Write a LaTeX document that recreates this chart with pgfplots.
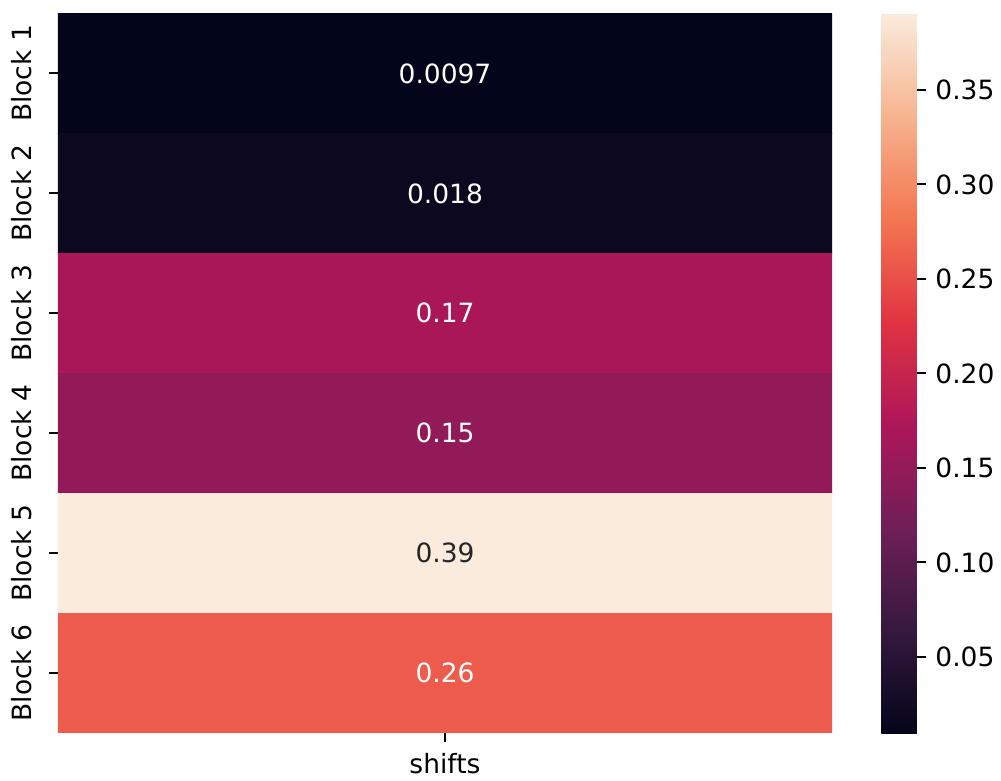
\documentclass[border=0pt]{standalone}
\usepackage{fontspec}
\setmainfont{DejaVu Sans}
\usepackage{pgfplots}
\pgfplotsset{compat=1.18}
\usepackage{pgfplotstable}

% seaborn "rocket" colour map, sampled at k/7
\pgfplotsset{
  colormap={rocket}{
    rgb255(0)=(3,5,26)
    rgb255(1)=(53,25,62)
    rgb255(2)=(112,31,87)
    rgb255(3)=(173,23,89)
    rgb255(4)=(225,51,66)
    rgb255(5)=(243,118,81)
    rgb255(6)=(246,180,143)
    rgb255(7)=(250,235,221)
  }
}
\definecolor{annodark}{HTML}{262626}

% one rectangle per block (four corners each), Block 1 on top
\pgfplotstableread{
x y c
0 5 0.0097
1 5 0.0097
1 6 0.0097
0 6 0.0097
0 4 0.018
1 4 0.018
1 5 0.018
0 5 0.018
0 3 0.17
1 3 0.17
1 4 0.17
0 4 0.17
0 2 0.15
1 2 0.15
1 3 0.15
0 3 0.15
0 1 0.39
1 1 0.39
1 2 0.39
0 2 0.39
0 0 0.26
1 0 0.26
1 1 0.26
0 1 0.26
}\cells

% annotations in the cell centres
\pgfplotstableread{
x y label
0.5 5.5 0.0097
0.5 4.5 0.018
0.5 3.5 0.17
0.5 2.5 0.15
0.5 0.5 0.26
}\lightlabels
\pgfplotstableread{
x y label
0.5 1.5 0.39
}\darklabels

\begin{document}
\begin{tikzpicture}
\fontsize{10.6pt}{12.7pt}\selectfont
\begin{axis}[
  at={(0,0)}, anchor=south west,
  scale only axis, width=309.6pt, height=287.8pt,
  xmin=0, xmax=1, ymin=0, ymax=6,
  axis x line*=bottom, axis y line*=left,
  axis line style={draw=none},
  tick align=outside, major tick length=3.5pt,
  tick style={black, line width=0.8pt},
  xtick={0.5}, xticklabels={shifts},
  xticklabel style={yshift=-0.8pt},
  ytick={0.5,1.5,2.5,3.5,4.5,5.5},
  yticklabels={Block 6,Block 5,Block 4,Block 3,Block 2,Block 1},
  yticklabel style={rotate=90, anchor=south, inner sep=6.6pt},
  /pgf/number format/assume math mode=true,
  colormap name=rocket,
  point meta min=0.0097, point meta max=0.3905,
  colorbar,
  colorbar style={
    at={(parent axis.north east)}, anchor=north west, xshift=11.2pt,
    scale only axis, width=14.4pt, height=287.8pt,
    axis line style={draw=none},
    ytick={0.05,0.10,0.15,0.20,0.25,0.30,0.35},
    ytick pos=right, yticklabel pos=right,
    tick align=outside, major tick length=3.5pt,
    tick style={black, line width=0.8pt},
    yticklabel style={/pgf/number format/.cd, fixed, fixed zerofill, precision=2, assume math mode=true},
  },
]
\addplot[patch, patch type=rectangle, shader=flat, point meta=explicit]
  table[x=x, y=y, meta=c] {\cells};
\addplot[only marks, mark=none, point meta=explicit symbolic,
  nodes near coords, nodes near coords align=center,
  every node near coord/.append style={text=white}]
  table[x=x, y=y, meta=label] {\lightlabels};
\addplot[only marks, mark=none, point meta=explicit symbolic,
  nodes near coords, nodes near coords align=center,
  every node near coord/.append style={text=annodark}]
  table[x=x, y=y, meta=label] {\darklabels};
\end{axis}
\pgfresetboundingbox
\path (-23.2pt,-19pt) rectangle (377.2pt,293.2pt);
\end{tikzpicture}
\end{document}
